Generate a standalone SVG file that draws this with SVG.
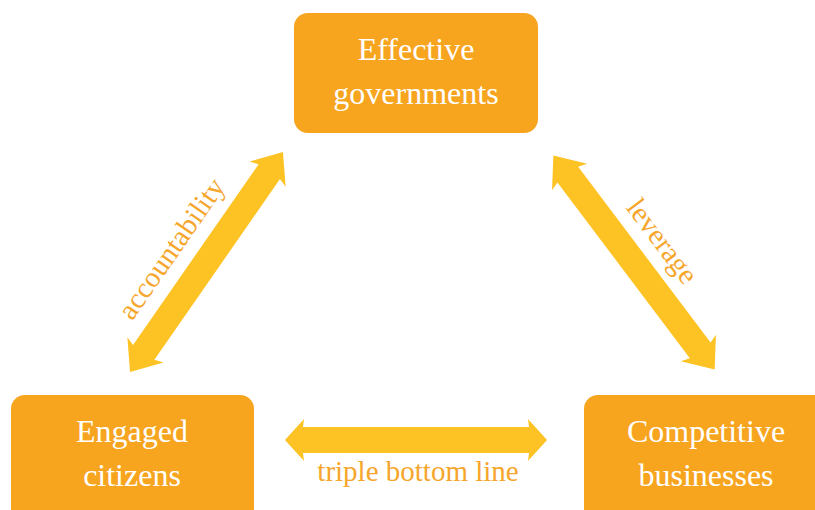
<svg xmlns="http://www.w3.org/2000/svg" width="815" height="510" viewBox="0 0 815 510">
  <style>
    .box { fill: #F7A41F; }
    .node-text { font-family: "Liberation Serif", "DejaVu Serif", serif; font-size: 32px; fill: #FFFFFF; text-anchor: middle; }
    .arrow { fill: #FDC324; }
    .edge-label { font-family: "Liberation Serif", "DejaVu Serif", serif; font-size: 29px; fill: #F6A62C; text-anchor: middle; }
  </style>
  <rect width="815" height="510" fill="#FFFFFF"/>

  <g id="connectors">
    <!-- governments <-> citizens -->
    <g transform="translate(206.5 262) rotate(-55.2)">
      <polygon class="arrow" points="-134,0 -107,-22 -110,-13 110,-13 107,-22 134,0 107,22 110,13 -110,13 -107,22"/>
      <text class="edge-label" x="-9" y="-27">accountability</text>
    </g>
    <!-- governments <-> businesses -->
    <g transform="translate(634 262.5) rotate(53)">
      <polygon class="arrow" points="-134,0 -107,-22 -110,-13 110,-13 107,-22 134,0 107,22 110,13 -110,13 -107,22"/>
      <text class="edge-label" x="0" y="-26">leverage</text>
    </g>
    <!-- citizens <-> businesses -->
    <g transform="translate(416 440)">
      <polygon class="arrow" points="-131,0 -112,-21 -113,-13 113,-13 112,-21 131,0 112,21 113,13 -113,13 -112,21"/>
      <text class="edge-label" x="2" y="41" font-size="30">triple bottom line</text>
    </g>
  </g>

  <g id="node-governments">
    <rect class="box" x="294" y="13" width="244" height="120" rx="14"/>
    <text class="node-text" x="416" y="60">Effective</text>
    <text class="node-text" x="416" y="104">governments</text>
  </g>

  <g id="node-citizens">
    <rect class="box" x="11" y="395" width="243" height="130" rx="14"/>
    <text class="node-text" x="132" y="442">Engaged</text>
    <text class="node-text" x="132" y="486">citizens</text>
  </g>

  <g id="node-businesses">
    <rect class="box" x="584" y="395" width="250" height="130" rx="14"/>
    <text class="node-text" x="706" y="442">Competitive</text>
    <text class="node-text" x="706" y="486">businesses</text>
  </g>
</svg>
